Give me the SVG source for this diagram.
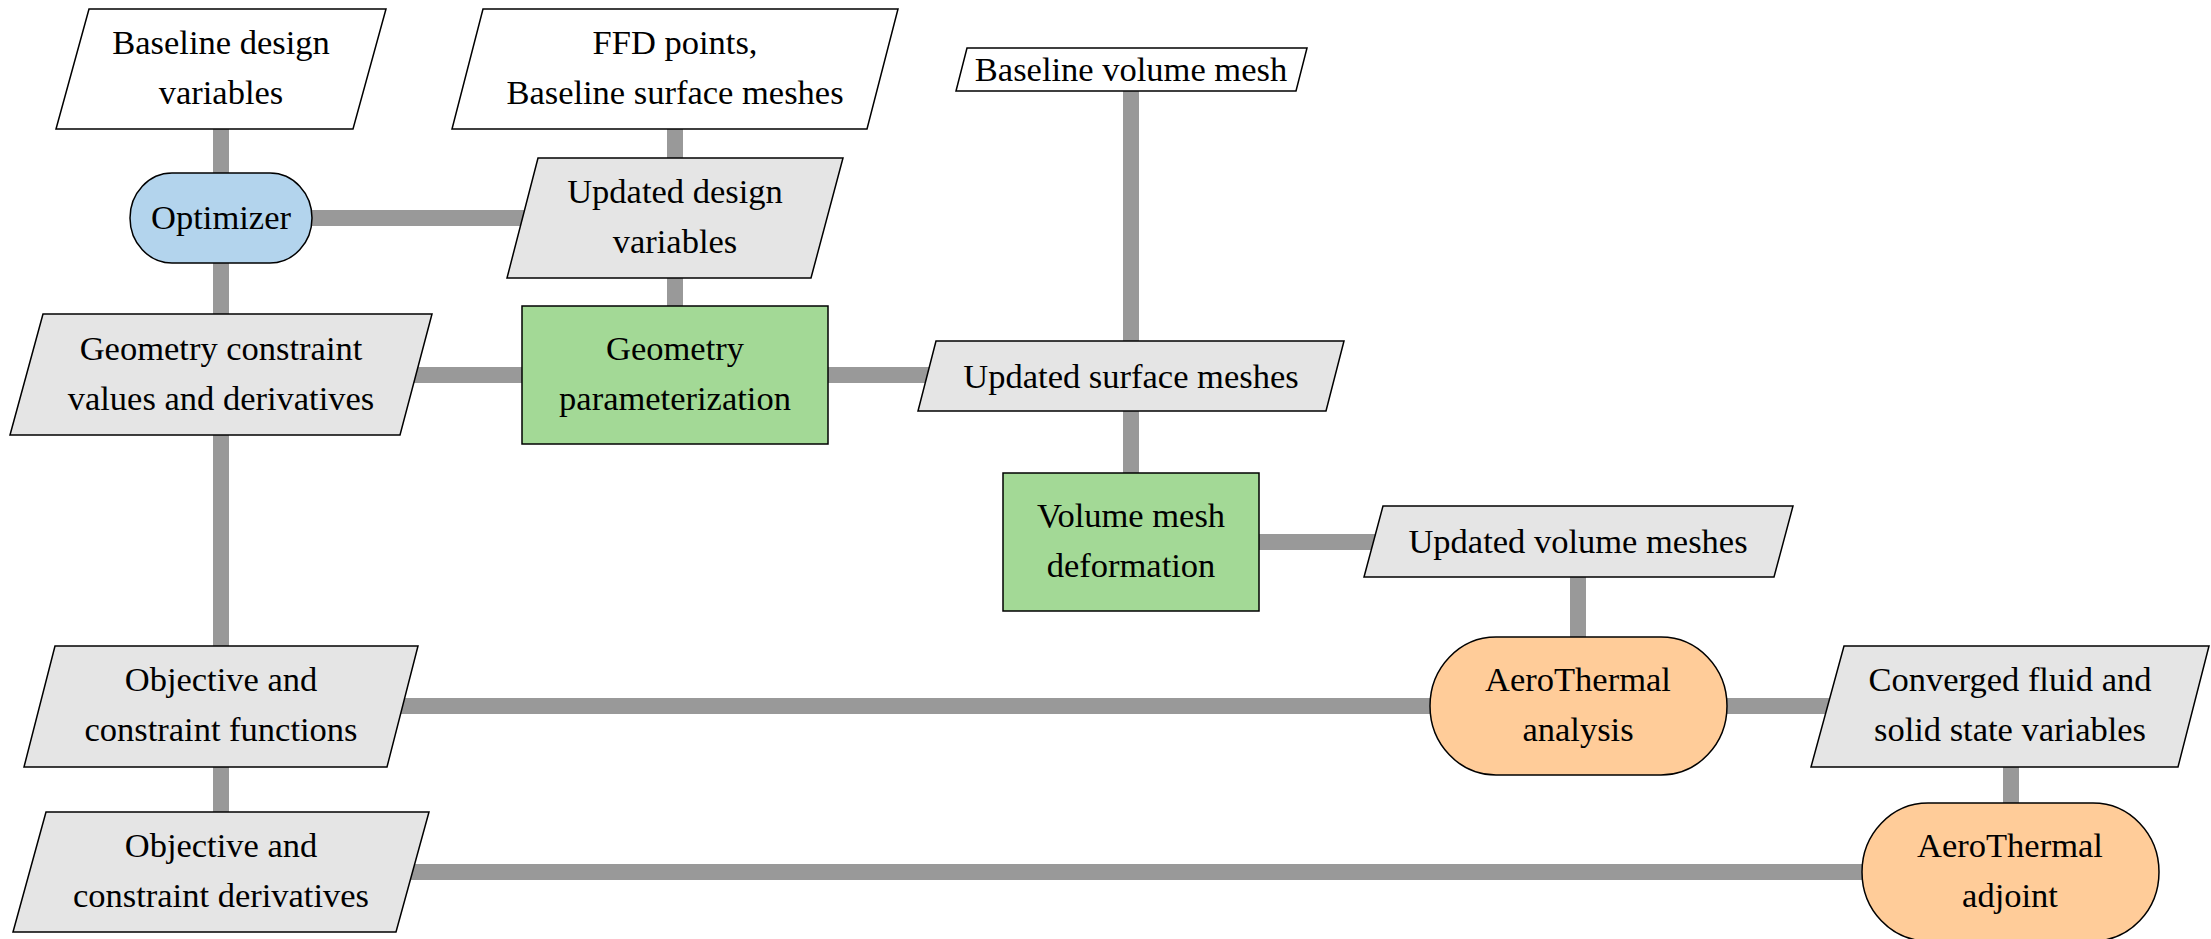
<svg xmlns="http://www.w3.org/2000/svg" width="2211" height="939" viewBox="0 0 2211 939">
<style>
.c{stroke:#999999;stroke-width:16;fill:none}
.io{fill:#ffffff;stroke:#000;stroke-width:1.5}
.dat{fill:#e5e5e5;stroke:#000;stroke-width:1.5}
.opt{fill:#b3d4ed;stroke:#000;stroke-width:1.5}
.proc{fill:#a3d996;stroke:#000;stroke-width:1.5}
.ana{fill:#ffcc99;stroke:#000;stroke-width:1.5}
.t{font-family:'Liberation Serif',serif;font-size:34.5px;fill:#000;text-anchor:middle}
</style>
<rect width="2211" height="939" fill="#ffffff"/>
<g id="connectors">
<line class="c" x1="221" y1="69" x2="221" y2="872"/>
<line class="c" x1="221" y1="218" x2="675" y2="218"/>
<line class="c" x1="675" y1="69" x2="675" y2="375"/>
<line class="c" x1="221" y1="375" x2="1131" y2="375"/>
<line class="c" x1="1131" y1="69" x2="1131" y2="542"/>
<line class="c" x1="1131" y1="542" x2="1578" y2="542"/>
<line class="c" x1="1578" y1="542" x2="1578" y2="706"/>
<line class="c" x1="221" y1="706" x2="2011" y2="706"/>
<line class="c" x1="2011" y1="706" x2="2011" y2="872"/>
<line class="c" x1="221" y1="872" x2="2011" y2="872"/>
</g>
<g id="baseline-design-variables">
<polygon class="io" points="89,9 386,9 353,129 56,129"/>
<text class="t" x="221" y="54">Baseline design</text>
<text class="t" x="221" y="104">variables</text>
</g>
<g id="ffd-points">
<polygon class="io" points="483,9 898,9 867,129 452,129"/>
<text class="t" x="675" y="54">FFD points,</text>
<text class="t" x="675" y="104">Baseline surface meshes</text>
</g>
<g id="baseline-volume-mesh">
<polygon class="io" points="967,48 1307,48 1296,91 956,91"/>
<text class="t" x="1131" y="81">Baseline volume mesh</text>
</g>
<g id="optimizer">
<path class="opt" d="M172,173 H270 A42,45 0 0 1 270,263 H172 A42,45 0 0 1 172,173 Z"/>
<text class="t" x="221" y="229">Optimizer</text>
</g>
<g id="updated-design-variables">
<polygon class="dat" points="538,158 843,158 811,278 507,278"/>
<text class="t" x="675" y="203">Updated design</text>
<text class="t" x="675" y="253">variables</text>
</g>
<g id="geometry-constraints">
<polygon class="dat" points="43,314 432,314 400,435 10,435"/>
<text class="t" x="221" y="360">Geometry constraint</text>
<text class="t" x="221" y="410">values and derivatives</text>
</g>
<g id="geometry-parameterization">
<rect class="proc" x="522" y="306" width="306" height="138"/>
<text class="t" x="675" y="360">Geometry</text>
<text class="t" x="675" y="410">parameterization</text>
</g>
<g id="updated-surface-meshes">
<polygon class="dat" points="936,341 1344,341 1326,411 918,411"/>
<text class="t" x="1131" y="388">Updated surface meshes</text>
</g>
<g id="volume-mesh-deformation">
<rect class="proc" x="1003" y="473" width="256" height="138"/>
<text class="t" x="1131" y="527">Volume mesh</text>
<text class="t" x="1131" y="577">deformation</text>
</g>
<g id="updated-volume-meshes">
<polygon class="dat" points="1383,506 1793,506 1774,577 1364,577"/>
<text class="t" x="1578" y="553">Updated volume meshes</text>
</g>
<g id="objective-constraint-functions">
<polygon class="dat" points="55,646 418,646 387,767 24,767"/>
<text class="t" x="221" y="691">Objective and</text>
<text class="t" x="221" y="741">constraint functions</text>
</g>
<g id="aerothermal-analysis">
<path class="ana" d="M1496,637 H1661 A66,69 0 0 1 1661,775 H1496 A66,69 0 0 1 1496,637 Z"/>
<text class="t" x="1578" y="691">AeroThermal</text>
<text class="t" x="1578" y="741">analysis</text>
</g>
<g id="converged-state">
<polygon class="dat" points="1844,646 2209,646 2178,767 1811,767"/>
<text class="t" x="2010" y="691">Converged fluid and</text>
<text class="t" x="2010" y="741">solid state variables</text>
</g>
<g id="objective-constraint-derivatives">
<polygon class="dat" points="46,812 429,812 396,932 13,932"/>
<text class="t" x="221" y="857">Objective and</text>
<text class="t" x="221" y="907">constraint derivatives</text>
</g>
<g id="aerothermal-adjoint">
<path class="ana" d="M1928,803 H2093 A66,69 0 0 1 2093,941 H1928 A66,69 0 0 1 1928,803 Z"/>
<text class="t" x="2010" y="857">AeroThermal</text>
<text class="t" x="2010" y="907">adjoint</text>
</g>
</svg>
